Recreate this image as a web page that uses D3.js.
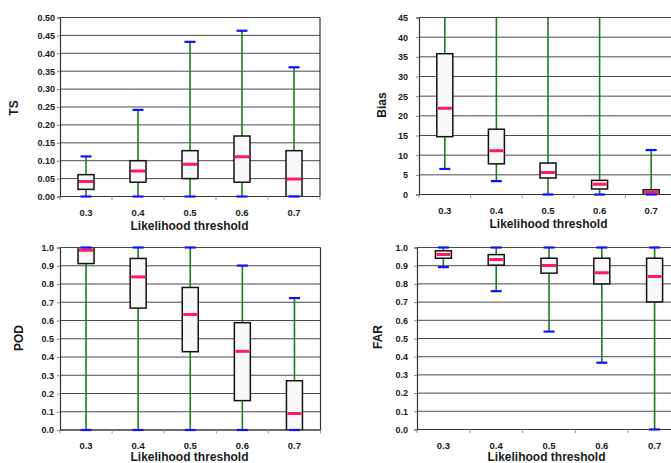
<!DOCTYPE html>
<html>
<head>
<meta charset="utf-8">
<script src="https://cdn.jsdelivr.net/npm/d3@7"></script>
<style>
  body { margin: 0; background: #fff; }
  svg text { font-family: "Liberation Sans", Arial, sans-serif; font-weight: bold; fill: #1a1a1a; }
</style>
</head>
<body>
<div class="viewbox"></div>
<script>
  // likelihood thresholds on the x axis
  const thresholds = ["0.3", "0.4", "0.5", "0.6", "0.7"];

  // five-number summaries per threshold: [min, q1, median, q3, max]
  const tsStats = [
    [0, 0.020, 0.042, 0.061, 0.112],
    [0, 0.040, 0.071, 0.100, 0.242],
    [0, 0.050, 0.090, 0.128, 0.432],
    [0, 0.040, 0.111, 0.169, 0.463],
    [0, 0.000, 0.049, 0.128, 0.361]
  ];
  // bias upper whiskers run off the top of the axis
  const biasStats = [
    [6.5, 14.7, 21.9, 35.8, 80],
    [3.4, 7.8, 11.1, 16.6, 70],
    [0, 4.2, 5.6, 8.0, 60],
    [0, 1.4, 2.6, 3.6, 50],
    [0, 0.0, 0.6, 1.2, 11.3]
  ];
  const podStats = [
    [0, 0.912, 0.985, 1.000, 1.000],
    [0, 0.668, 0.839, 0.940, 1.000],
    [0, 0.429, 0.633, 0.781, 1.000],
    [0, 0.161, 0.431, 0.588, 0.901],
    [0, 0.000, 0.091, 0.270, 0.723]
  ];
  const farStats = [
    [0.892, 0.941, 0.961, 0.982, 1.000],
    [0.760, 0.903, 0.934, 0.961, 1.000],
    [0.538, 0.859, 0.901, 0.941, 1.000],
    [0.367, 0.800, 0.861, 0.941, 1.000],
    [0.000, 0.701, 0.840, 0.941, 1.000]
  ];

  const tsTicks = d3.range(0, 0.501, 0.05);
  const biasTicks = d3.range(0, 46, 5);
  const unitTicks = d3.range(0, 1.001, 0.1);

  const svg = d3.select(".viewbox").append("svg")
    .attr("width", 671)
    .attr("height", 463);

  const GREEN = "#1b7d1b", BLUE = "#1010ff", PINK = "#ff1a66", GRID = "#4a4a4a";

  // panel frames (pixel boxes of the plot areas)
  const panels = [
    { name: "TS", stats: tsStats, ticks: tsTicks, fmt: ".2f", max: 0.5,
      x0: 60, x1: 320, y0: 17.5, y1: 196.5, labGap: 5, titleX: 14, titleY: 108, catY: 216, xtY: 230 },
    { name: "Bias", stats: biasStats, ticks: biasTicks, fmt: "d", max: 45,
      x0: 419, x1: 677, y0: 17.5, y1: 194.5, labGap: 11, titleX: 382, titleY: 105, catY: 214, xtY: 228 },
    { name: "POD", stats: podStats, ticks: unitTicks, fmt: ".1f", max: 1,
      x0: 60, x1: 320.5, y0: 247.5, y1: 430, labGap: 6, titleX: 19, titleY: 338, catY: 449, xtY: 461 },
    { name: "FAR", stats: farStats, ticks: unitTicks, fmt: ".1f", max: 1,
      x0: 417, x1: 681, y0: 247.5, y1: 429.5, labGap: 9, titleX: 378, titleY: 337, catY: 449, xtY: 461 }
  ];

  panels.forEach((p, i) => drawPanel(p, i));

  function drawPanel(p, i) {
    const x = d3.scaleBand().domain(thresholds).range([p.x0, p.x1]);
    const y = d3.scaleLinear().domain([0, p.max]).range([p.y1, p.y0]);
    const g = svg.append("g");

    g.append("clipPath").attr("id", "clip" + i)
      .append("rect")
      .attr("x", p.x0).attr("y", p.y0)
      .attr("width", p.x1 - p.x0).attr("height", p.y1 - p.y0);

    // gridlines
    g.selectAll(".grid").data(p.ticks).enter().append("line")
      .attr("x1", p.x0).attr("x2", p.x1)
      .attr("y1", d => y(d)).attr("y2", d => y(d))
      .attr("stroke", GRID).attr("stroke-width", 1);

    // y axis
    const yAxis = d3.axisLeft(y).tickValues(p.ticks)
      .tickFormat(d3.format(p.fmt)).tickSize(3).tickPadding(p.labGap - 3);
    const ya = g.append("g").attr("transform", `translate(${p.x0},0)`).call(yAxis);
    ya.select(".domain").attr("stroke", "#333").attr("stroke-width", 1.2);
    ya.selectAll(".tick line").attr("stroke", "#888");
    ya.selectAll("text").attr("font-size", 9).attr("fill", "#1a1a1a")
      .style("font-family", "Liberation Sans, Arial, sans-serif").style("font-weight", "bold");

    // right border
    g.append("line")
      .attr("x1", p.x1).attr("x2", p.x1).attr("y1", p.y0).attr("y2", p.y1)
      .attr("stroke", "#333").attr("stroke-width", 1.2);

    // bottom axis with ticks at category boundaries
    g.append("line")
      .attr("x1", p.x0).attr("x2", p.x1).attr("y1", p.y1).attr("y2", p.y1)
      .attr("stroke", "#333").attr("stroke-width", 1.2);
    const bounds = thresholds.map(d => x(d)).concat([p.x1]);
    g.selectAll(".xt").data(bounds).enter().append("line")
      .attr("x1", d => d).attr("x2", d => d)
      .attr("y1", p.y1).attr("y2", p.y1 + 3.5)
      .attr("stroke", "#999");

    g.selectAll(".cat").data(thresholds).enter().append("text")
      .attr("x", d => x(d) + x.bandwidth() / 2)
      .attr("y", p.catY)
      .attr("text-anchor", "middle")
      .attr("font-size", 9.5)
      .text(d => d);

    g.append("text")
      .attr("x", (p.x0 + (p.x0 + 5 * 51.8)) / 2)
      .attr("y", p.xtY)
      .attr("text-anchor", "middle")
      .attr("font-size", 12)
      .text("Likelihood threshold");

    g.append("text")
      .attr("transform", `translate(${p.titleX + 4},${p.titleY}) rotate(-90)`)
      .attr("text-anchor", "middle")
      .attr("font-size", 12)
      .text(p.name);

    // boxes
    const boxW = 16, capW = 11;
    const rows = p.stats.map((s, k) => ({ cat: thresholds[k], s: s }));
    const bx = g.append("g").attr("clip-path", `url(#clip${i})`);
    const cx = d => x(d.cat) + x.bandwidth() / 2;

    bx.selectAll(".wh").data(rows).enter().append("line")
      .attr("x1", cx).attr("x2", cx)
      .attr("y1", d => y(d.s[0])).attr("y2", d => y(d.s[4]))
      .attr("stroke", GREEN).attr("stroke-width", 1.6);

    bx.selectAll(".box").data(rows).enter().append("rect")
      .attr("x", d => cx(d) - boxW / 2)
      .attr("width", boxW)
      .attr("y", d => y(d.s[3]))
      .attr("height", d => y(d.s[1]) - y(d.s[3]))
      .attr("fill", "#f8f8f8")
      .attr("stroke", "#111").attr("stroke-width", 1.5);

    bx.selectAll(".med").data(rows).enter().append("line")
      .attr("x1", d => cx(d) - boxW / 2 + 1).attr("x2", d => cx(d) + boxW / 2 - 1)
      .attr("y1", d => y(d.s[2])).attr("y2", d => y(d.s[2]))
      .attr("stroke", PINK).attr("stroke-width", 3);

    [0, 4].forEach(j => {
      g.selectAll(".cap" + j).data(rows.filter(d => d.s[j] <= p.max)).enter().append("line")
        .attr("x1", d => cx(d) - capW / 2).attr("x2", d => cx(d) + capW / 2)
        .attr("y1", d => y(d.s[j])).attr("y2", d => y(d.s[j]))
        .attr("stroke", BLUE).attr("stroke-width", 2.2);
    });
  }
</script>
</body>
</html>
